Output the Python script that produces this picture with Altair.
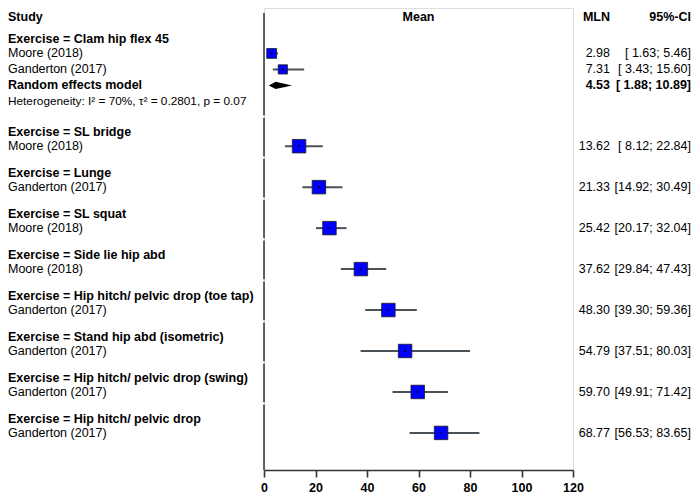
import altair as alt
import pandas as pd

# ---------------- data ----------------
groups = ["Clam hip flex 45", "SL bridge", "Lunge", "SL squat", "Side lie hip abd",
          "Hip hitch/ pelvic drop (toe tap)", "Stand hip abd (isometric)",
          "Hip hitch/ pelvic drop (swing)", "Hip hitch/ pelvic drop"]
study_group = [0, 0, 1, 2, 3, 4, 5, 6, 7, 8]
study_names = ["Moore (2018)", "Ganderton (2017)", "Moore (2018)", "Ganderton (2017)",
               "Moore (2018)", "Moore (2018)", "Ganderton (2017)", "Ganderton (2017)",
               "Ganderton (2017)", "Ganderton (2017)"]
mln = [2.98, 7.31, 13.62, 21.33, 25.42, 37.62, 48.30, 54.79, 59.70, 68.77]
ci_low = [1.63, 3.43, 8.12, 14.92, 20.17, 29.84, 39.30, 37.51, 49.91, 56.53]
ci_high = [5.46, 15.60, 22.84, 30.49, 32.04, 47.43, 59.36, 80.03, 71.42, 83.65]
weights = [53.4, 46.6, 100, 100, 100, 100, 100, 100, 100, 100]
pooled_group = 0
pooled_est, pooled_low, pooled_high = 4.53, 1.88, 10.89
het_text = "Heterogeneity: I\u00b2 = 70%, \u03c4\u00b2 = 0.2801, p = 0.07"
x_ticks = [0, 20, 40, 60, 80, 100, 120]

# ---------------- layout (row units) ----------------
STUDY_OFF = 0.9
GAP = 1.66
HET_EXTRA = 0.24
HEAD_R = -1.35
R_TOP, R_BOT = -1.9375, 26.9375

study_r = [0.0] * len(mln)
headers = []
re_r = het_r = None
pos = 0.0
for gi, g in enumerate(groups):
    headers.append(pos)
    off = STUDY_OFF
    for i, s in enumerate(study_group):
        if s == gi:
            study_r[i] = pos + off
            off += 1
    last = off - 1
    extra = 0.0
    if gi == pooled_group:
        re_r = pos + off
        het_r = pos + off + 1
        last = off + 1
        extra = HET_EXTRA
    pos += last + GAP + extra

FONT = "Liberation Sans"
FS = 12.5
yscale = alt.Scale(domain=[R_TOP, R_BOT], reverse=True, nice=False, zero=False)
xscale = alt.Scale(domain=[0, 120], nice=False, zero=False)
LEFT_X = -256
MLN_X = 346
CI_X = 427

def fmt_ci(lo, hi):
    return f"[{lo:5.2f}; {hi:5.2f}]"

left_bold = pd.DataFrame({
    "r": [HEAD_R] + headers + [re_r],
    "t": ["Study"] + [f"Exercise = {g}" for g in groups] + ["Random effects model"],
})
left_norm = pd.DataFrame({"r": study_r, "t": study_names})
het_df = pd.DataFrame({"r": [het_r], "t": [het_text]})
studies = pd.DataFrame({
    "r": study_r, "m": mln, "lo": ci_low, "hi": ci_high, "w": weights,
    "mt": [f"{m:.2f}" for m in mln],
    "ct": [fmt_ci(a, b) for a, b in zip(ci_low, ci_high)],
})
right_bold = pd.DataFrame({
    "r": [HEAD_R, re_r],
    "mt": ["MLN", f"{pooled_est:.2f}"],
    "ct": ["95%-CI", fmt_ci(pooled_low, pooled_high)],
})
mean_head = pd.DataFrame({"r": [HEAD_R], "x": [60], "t": ["Mean"]})

DH = 0.23
diamond = pd.DataFrame({
    "x": [pooled_low, pooled_est, pooled_high],
    "y": [re_r, re_r - DH, re_r],
    "y2": [re_r, re_r + DH, re_r],
})

# reference line at 0, drawn per subgroup with small gaps
bounds = [h - 0.95 for h in headers[1:]]
seg_start = [-1.625] + [b + 0.07 for b in bounds]
seg_end = [b - 0.07 for b in bounds] + [R_BOT]
ref_df = pd.DataFrame({"x": [0] * len(seg_start), "y": seg_start, "y2": seg_end})

Y = lambda f="r": alt.Y(f"{f}:Q", scale=yscale, axis=None)

ref_line = alt.Chart(ref_df).mark_rule(color="#3c3c3c", strokeWidth=1.6).encode(
    x=alt.X("x:Q", scale=xscale, axis=alt.Axis(
        values=x_ticks, title=None, grid=False, labelFont=FONT, labelFontSize=12.5,
        labelFontWeight="bold", labelColor="black", domainColor="#333333",
        domainWidth=1.6, tickColor="#333333", tickWidth=1.6, tickSize=7,
        labelPadding=4, labelFlush=False)),
    y=Y("y"), y2="y2",
)

ci_lines = alt.Chart(studies).mark_rule(color="#4b5257", strokeWidth=2).encode(
    x=alt.X("lo:Q", scale=xscale), x2="hi", y=Y(),
)
boxes = alt.Chart(studies).mark_square(
    filled=True, color="#0000ff", stroke="#1a1a1a", strokeWidth=0.8, opacity=1
).encode(
    x=alt.X("m:Q", scale=xscale), y=Y(),
    size=alt.Size("w:Q", scale=alt.Scale(domain=[0, 100], range=[0, 182]), legend=None),
)
dots = alt.Chart(studies).mark_square(filled=True, color="black", size=3, opacity=1).encode(
    x=alt.X("m:Q", scale=xscale), y=Y(),
)
diam = alt.Chart(diamond).mark_area(color="black", opacity=1).encode(
    x=alt.X("x:Q", scale=xscale), y=Y("y"), y2="y2",
)

def txt(df, field, xval, align, bold=False, size=FS):
    return alt.Chart(df).mark_text(
        align=align, baseline="middle", font=FONT, fontSize=size,
        fontWeight="bold" if bold else "normal", color="black"
    ).encode(x=alt.value(xval), y=Y(), text=f"{field}:N")

t_left_bold = txt(left_bold, "t", LEFT_X, "left", True)
t_left_norm = txt(left_norm, "t", LEFT_X, "left")
t_het = txt(het_df, "t", LEFT_X, "left", size=11.8)
t_mln = txt(studies, "mt", MLN_X, "right")
t_ci = txt(studies, "ct", CI_X, "right")
t_mln_b = txt(right_bold, "mt", MLN_X, "right", True)
t_ci_b = txt(right_bold, "ct", CI_X, "right", True)
t_mean = alt.Chart(mean_head).mark_text(
    align="center", baseline="middle", font=FONT, fontSize=FS, fontWeight="bold", color="black"
).encode(x=alt.X("x:Q", scale=xscale), y=Y(), text="t:N")

chart = alt.layer(
    ref_line, ci_lines, boxes, dots, diam,
    t_left_bold, t_left_norm, t_het, t_mln, t_ci, t_mln_b, t_ci_b, t_mean,
).properties(
    width=309, height=462,
    autosize=alt.AutoSizeParams(type="none"),
    padding={"left": 256, "top": 0, "right": 119, "bottom": 25},
).configure_view(stroke=None).configure(background="white")

chart.save("out.html", embed_options={"renderer": "svg", "actions": False})
